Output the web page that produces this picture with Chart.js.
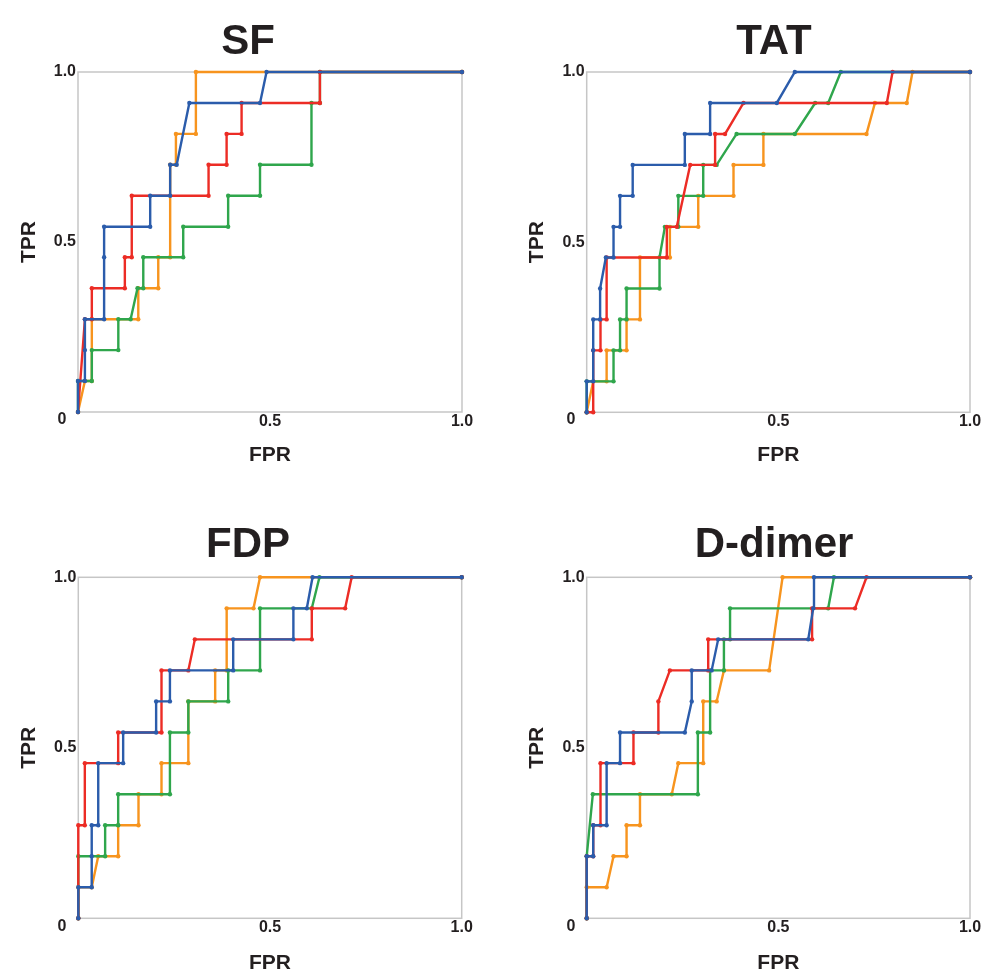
<!DOCTYPE html>
<html>
<head>
<meta charset="utf-8">
<script src="https://cdn.jsdelivr.net/npm/chart.js@4.4.1/dist/chart.umd.min.js"></script>
<style>
  html, body { margin: 0; padding: 0; background: #ffffff; }
  #wrap { position: relative; width: 985px; height: 979px; overflow: hidden; }
  canvas { position: absolute; }
</style>
</head>
<body>
<div id="wrap">
  <canvas id="c0"></canvas>
  <canvas id="c1"></canvas>
  <canvas id="c2"></canvas>
  <canvas id="c3"></canvas>
</div>
<script>
// ---------- labels ----------
const panelTitles = ['SF', 'TAT', 'FDP', 'D-dimer'];
const xAxisTitle = 'FPR';
const yAxisTitle = 'TPR';
const xTickValues = [0.5, 1.0];
const xTickLabels = ['0.5', '1.0'];
const yTickValues = [0.5, 1.0];
const yTickLabels = ['0.5', '1.0'];
const cornerLabel = '0';
const seriesNames = ['blue', 'red', 'green', 'orange'];

// ---------- SF ----------
const sfBlueFpr = [0, 0, 0.018, 0.018, 0.018, 0.068, 0.068, 0.068, 0.188, 0.188, 0.24, 0.24, 0.257, 0.29, 0.474, 0.491, 1];
const sfBlueTpr = [0, 0.091, 0.091, 0.182, 0.273, 0.273, 0.455, 0.545, 0.545, 0.636, 0.636, 0.727, 0.727, 0.909, 0.909, 1, 1];
const sfRedFpr = [0, 0.018, 0.036, 0.036, 0.122, 0.122, 0.14, 0.14, 0.34, 0.34, 0.387, 0.387, 0.426, 0.426, 0.63, 0.63, 1];
const sfRedTpr = [0, 0.273, 0.273, 0.364, 0.364, 0.455, 0.455, 0.636, 0.636, 0.727, 0.727, 0.818, 0.818, 0.909, 0.909, 1, 1];
const sfGreenFpr = [0, 0, 0.036, 0.036, 0.105, 0.105, 0.137, 0.155, 0.17, 0.17, 0.274, 0.274, 0.391, 0.391, 0.474, 0.474, 0.608, 0.608, 0.63, 0.63, 1];
const sfGreenTpr = [0, 0.091, 0.091, 0.182, 0.182, 0.273, 0.273, 0.364, 0.364, 0.455, 0.455, 0.545, 0.545, 0.636, 0.636, 0.727, 0.727, 0.909, 0.909, 1, 1];
const sfOrangeFpr = [0, 0.018, 0.036, 0.036, 0.157, 0.157, 0.209, 0.209, 0.24, 0.24, 0.255, 0.255, 0.307, 0.307, 1];
const sfOrangeTpr = [0, 0.091, 0.091, 0.273, 0.273, 0.364, 0.364, 0.455, 0.455, 0.727, 0.727, 0.818, 0.818, 1, 1];

// ---------- TAT ----------
const tatBlueFpr = [0, 0, 0.017, 0.017, 0.017, 0.035, 0.035, 0.05, 0.07, 0.07, 0.087, 0.087, 0.12, 0.12, 0.256, 0.256, 0.322, 0.322, 0.496, 0.543, 1];
const tatBlueTpr = [0, 0.091, 0.091, 0.182, 0.273, 0.273, 0.364, 0.455, 0.455, 0.545, 0.545, 0.636, 0.636, 0.727, 0.727, 0.818, 0.818, 0.909, 0.909, 1, 1];
const tatRedFpr = [0, 0.017, 0.017, 0.036, 0.036, 0.052, 0.052, 0.209, 0.209, 0.235, 0.27, 0.335, 0.335, 0.361, 0.409, 0.783, 0.798, 1];
const tatRedTpr = [0, 0, 0.182, 0.182, 0.273, 0.273, 0.455, 0.455, 0.545, 0.545, 0.727, 0.727, 0.818, 0.818, 0.909, 0.909, 1, 1];
const tatGreenFpr = [0, 0, 0.07, 0.07, 0.087, 0.087, 0.104, 0.104, 0.19, 0.19, 0.204, 0.239, 0.239, 0.304, 0.304, 0.339, 0.391, 0.543, 0.596, 0.63, 0.663, 1];
const tatGreenTpr = [0, 0.091, 0.091, 0.182, 0.182, 0.273, 0.273, 0.364, 0.364, 0.455, 0.545, 0.545, 0.636, 0.636, 0.727, 0.727, 0.818, 0.818, 0.909, 0.909, 1, 1];
const tatOrangeFpr = [0, 0.017, 0.052, 0.052, 0.104, 0.104, 0.139, 0.139, 0.217, 0.217, 0.291, 0.291, 0.383, 0.383, 0.461, 0.461, 0.73, 0.752, 0.835, 0.85, 1];
const tatOrangeTpr = [0, 0.091, 0.091, 0.182, 0.182, 0.273, 0.273, 0.455, 0.455, 0.545, 0.545, 0.636, 0.636, 0.727, 0.727, 0.818, 0.818, 0.909, 0.909, 1, 1];

// ---------- FDP ----------
const fdpBlueFpr = [0, 0, 0.035, 0.035, 0.035, 0.052, 0.052, 0.117, 0.117, 0.203, 0.203, 0.239, 0.239, 0.404, 0.404, 0.561, 0.561, 0.596, 0.611, 1];
const fdpBlueTpr = [0, 0.091, 0.091, 0.182, 0.273, 0.273, 0.455, 0.455, 0.545, 0.545, 0.636, 0.636, 0.727, 0.727, 0.818, 0.818, 0.909, 0.909, 1, 1];
const fdpRedFpr = [0, 0, 0.017, 0.017, 0.104, 0.104, 0.217, 0.217, 0.287, 0.304, 0.609, 0.609, 0.696, 0.713, 1];
const fdpRedTpr = [0, 0.273, 0.273, 0.455, 0.455, 0.545, 0.545, 0.727, 0.727, 0.818, 0.818, 0.909, 0.909, 1, 1];
const fdpGreenFpr = [0, 0, 0.07, 0.07, 0.104, 0.104, 0.239, 0.239, 0.287, 0.287, 0.391, 0.391, 0.474, 0.474, 0.609, 0.629, 1];
const fdpGreenTpr = [0, 0.182, 0.182, 0.273, 0.273, 0.364, 0.364, 0.545, 0.545, 0.636, 0.636, 0.727, 0.727, 0.909, 0.909, 1, 1];
const fdpOrangeFpr = [0, 0, 0.035, 0.052, 0.104, 0.104, 0.157, 0.157, 0.217, 0.217, 0.287, 0.287, 0.357, 0.357, 0.387, 0.387, 0.457, 0.474, 1];
const fdpOrangeTpr = [0, 0.091, 0.091, 0.182, 0.182, 0.273, 0.273, 0.364, 0.364, 0.455, 0.455, 0.636, 0.636, 0.727, 0.727, 0.909, 0.909, 1, 1];

// ---------- D-dimer ----------
const ddBlueFpr = [0, 0, 0.017, 0.017, 0.052, 0.052, 0.087, 0.087, 0.256, 0.274, 0.274, 0.326, 0.343, 0.578, 0.591, 0.593, 1];
const ddBlueTpr = [0, 0.182, 0.182, 0.273, 0.273, 0.455, 0.455, 0.545, 0.545, 0.636, 0.727, 0.727, 0.818, 0.818, 0.909, 1, 1];
const ddRedFpr = [0, 0, 0.017, 0.017, 0.036, 0.036, 0.122, 0.122, 0.187, 0.187, 0.217, 0.317, 0.317, 0.588, 0.588, 0.7, 0.73, 1];
const ddRedTpr = [0, 0.182, 0.182, 0.273, 0.273, 0.455, 0.455, 0.545, 0.545, 0.636, 0.727, 0.727, 0.818, 0.818, 0.909, 0.909, 1, 1];
const ddGreenFpr = [0, 0, 0.016, 0.29, 0.29, 0.322, 0.322, 0.358, 0.358, 0.374, 0.374, 0.63, 0.645, 1];
const ddGreenTpr = [0, 0.182, 0.364, 0.364, 0.545, 0.545, 0.727, 0.727, 0.818, 0.818, 0.909, 0.909, 1, 1];
const ddOrangeFpr = [0, 0, 0.052, 0.07, 0.104, 0.104, 0.139, 0.139, 0.222, 0.239, 0.304, 0.304, 0.339, 0.358, 0.476, 0.511, 1];
const ddOrangeTpr = [0, 0.091, 0.091, 0.182, 0.182, 0.273, 0.273, 0.364, 0.364, 0.455, 0.455, 0.636, 0.636, 0.727, 0.727, 1, 1];

// ---------- assemble ----------
const panelSeries = [
  [[sfBlueFpr, sfBlueTpr], [sfRedFpr, sfRedTpr], [sfGreenFpr, sfGreenTpr], [sfOrangeFpr, sfOrangeTpr]],
  [[tatBlueFpr, tatBlueTpr], [tatRedFpr, tatRedTpr], [tatGreenFpr, tatGreenTpr], [tatOrangeFpr, tatOrangeTpr]],
  [[fdpBlueFpr, fdpBlueTpr], [fdpRedFpr, fdpRedTpr], [fdpGreenFpr, fdpGreenTpr], [fdpOrangeFpr, fdpOrangeTpr]],
  [[ddBlueFpr, ddBlueTpr], [ddRedFpr, ddRedTpr], [ddGreenFpr, ddGreenTpr], [ddOrangeFpr, ddOrangeTpr]]
];

const colors = { blue: '#2b5cab', red: '#ec2c25', green: '#2fa64c', orange: '#f7941e' };
const textColor = '#231f20';
const fontFamily = '"Liberation Sans", Arial, Helvetica, sans-serif';

const layouts = [
  { left: 0,   top: 0,   w: 492, h: 490, aL: 78,   aR: 462, aT: 72,   aB: 412,   tX: 248, tY: 42, zX: 62, zY: 420, tprPad: 17, fprPad: 22 },
  { left: 492, top: 0,   w: 493, h: 490, aL: 94.7, aR: 478, aT: 72,   aB: 412.3, tX: 282, tY: 42, zX: 79, zY: 420, tprPad: 33, fprPad: 22 },
  { left: 0,   top: 490, w: 492, h: 489, aL: 78.3, aR: 461.7, aT: 87.3, aB: 428.3, tX: 248, tY: 55, zX: 62, zY: 437, tprPad: 17, fprPad: 3 },
  { left: 492, top: 490, w: 493, h: 489, aL: 94.7, aR: 478, aT: 87.3, aB: 428.3, tX: 282, tY: 55, zX: 79, zY: 437, tprPad: 33, fprPad: 3 }
];

const panelPlugin = {
  id: 'panelDecor',
  beforeDatasetsDraw(chart, args, opts) {
    const { ctx, chartArea: a } = chart;
    ctx.save();
    ctx.strokeStyle = '#c6c6c6';
    ctx.lineWidth = 1.5;
    ctx.strokeRect(a.left, a.top, a.right - a.left, a.bottom - a.top);
    ctx.restore();
  },
  afterDraw(chart, args, opts) {
    const { ctx } = chart;
    ctx.save();
    ctx.fillStyle = textColor;
    ctx.textAlign = 'center';
    ctx.textBaseline = 'middle';
    ctx.font = 'bold 42px ' + fontFamily;
    ctx.fillText(opts.title, opts.tX, opts.tY);
    ctx.font = 'bold 16px ' + fontFamily;
    ctx.fillText(cornerLabel, opts.zX, opts.zY);
    ctx.restore();
  }
};

layouts.forEach((L, p) => {
  const canvas = document.getElementById('c' + p);
  canvas.width = L.w; canvas.height = L.h;
  canvas.style.left = L.left + 'px'; canvas.style.top = L.top + 'px';
  canvas.style.width = L.w + 'px'; canvas.style.height = L.h + 'px';

  const datasets = panelSeries[p].map((s, i) => {
    const c = colors[seriesNames[i]];
    return {
      label: seriesNames[i],
      data: s[0].map((x, k) => ({ x: x, y: s[1][k] })),
      showLine: true,
      borderColor: c,
      backgroundColor: c,
      borderWidth: 2.4,
      pointRadius: 2.2,
      pointBorderWidth: 0,
      pointBackgroundColor: c,
      tension: 0,
      clip: false
    };
  });

  new Chart(canvas, {
    type: 'scatter',
    data: { datasets },
    plugins: [panelPlugin],
    options: {
      responsive: false,
      animation: false,
      events: [],
      devicePixelRatio: 1,
      layout: { padding: { top: L.aT, right: L.w - L.aR, left: 0, bottom: 0 } },
      plugins: {
        legend: { display: false },
        tooltip: { enabled: false },
        panelDecor: { title: panelTitles[p], tX: L.tX, tY: L.tY, zX: L.zX, zY: L.zY }
      },
      scales: {
        x: {
          type: 'linear', min: 0, max: 1,
          grid: { display: false, drawTicks: false },
          border: { display: false },
          afterBuildTicks: (ax) => { ax.ticks = xTickValues.map(v => ({ value: v })); },
          afterFit: (ax) => { ax.height = L.h - L.aB; },
          ticks: {
            padding: 0, color: textColor,
            font: { family: fontFamily, size: 16, weight: 'bold' },
            callback: (v, i) => xTickLabels[i]
          },
          title: {
            display: true, text: xAxisTitle, color: textColor,
            font: { family: fontFamily, size: 21, weight: 'bold' },
            padding: { top: 0, bottom: L.fprPad }
          }
        },
        y: {
          type: 'linear', min: 0, max: 1,
          grid: { display: false, drawTicks: false },
          border: { display: false },
          afterBuildTicks: (ax) => { ax.ticks = yTickValues.map(v => ({ value: v })); },
          afterFit: (ax) => { ax.width = L.aL; },
          ticks: {
            padding: 2, color: textColor,
            font: { family: fontFamily, size: 16, weight: 'bold' },
            callback: (v, i) => yTickLabels[i]
          },
          title: {
            display: true, text: yAxisTitle, color: textColor,
            font: { family: fontFamily, size: 21, weight: 'bold' },
            padding: { top: L.tprPad, bottom: 0 }
          }
        }
      }
    }
  });
});
</script>
</body>
</html>
